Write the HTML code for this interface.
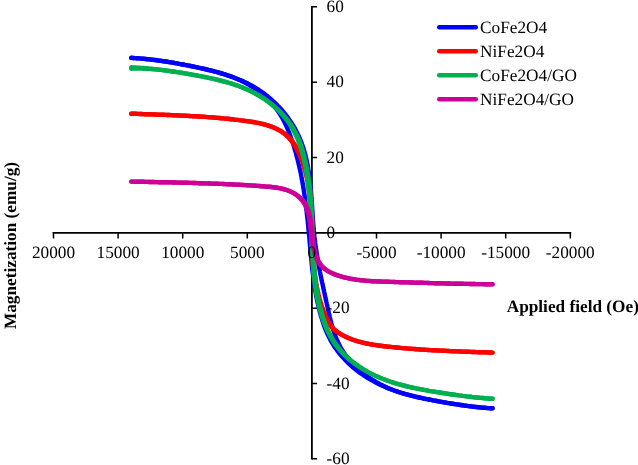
<!DOCTYPE html>
<html><head><meta charset="utf-8"><title>Magnetization</title>
<style>
html,body{margin:0;padding:0;background:#fff;}
body{width:638px;height:465px;overflow:hidden;}
svg{display:block;}
text{text-rendering:geometricPrecision;font-family:"Liberation Serif","Times New Roman",serif;font-size:17.25px;fill:#000;}
.b{font-weight:bold;}
</style></head><body>
<svg width="638" height="465" viewBox="0 0 638 465">
<rect width="638" height="465" fill="#fff"/>
<g fill="none" stroke="#000">
<path d="M311.90 6.10 V459.50 M52.60 232.80 H571.20" stroke-width="1.8"/>
<path d="M311.90 458.80 h5.2 M311.90 383.47 h5.2 M311.90 308.13 h5.2 M311.90 232.80 h5.2 M311.90 157.47 h5.2 M311.90 82.13 h5.2 M311.90 6.80 h5.2 M53.50 232.80 v5.6 M118.10 232.80 v5.6 M182.70 232.80 v5.6 M247.30 232.80 v5.6 M311.90 232.80 v5.6 M376.50 232.80 v5.6 M441.10 232.80 v5.6 M505.70 232.80 v5.6 M570.30 232.80 v5.6 " stroke-width="1.5"/>
</g>
<g fill="none" stroke-width="4.4" stroke-linecap="round" stroke-linejoin="round">
<path d="M131.2 57.9L133.2 58.0 135.2 58.1 137.2 58.3 139.2 58.4 141.2 58.6 143.2 58.7 145.2 58.9 147.2 59.1 149.2 59.3 151.2 59.6 153.2 59.8 155.2 60.0 157.2 60.3 159.2 60.6 161.2 60.8 163.1 61.1 165.1 61.4 167.1 61.7 169.1 62.1 171.1 62.4 173.0 62.7 175.0 63.1 177.0 63.4 179.0 63.8 180.9 64.2 182.9 64.5 184.9 64.9 186.8 65.3 188.8 65.7 190.8 66.1 192.7 66.5 194.7 66.9 196.6 67.3 198.6 67.8 200.6 68.2 202.5 68.6 204.5 69.0 206.4 69.5 208.4 70.0 210.3 70.4 212.3 70.9 214.2 71.4 216.2 71.9 218.1 72.4 220.0 73.0 222.0 73.5 223.9 74.1 225.8 74.7 227.7 75.3 229.6 75.9 231.5 76.6 233.4 77.3 235.3 78.0 237.1 78.7 239.0 79.5 240.8 80.2 242.7 81.0 244.5 81.9 246.3 82.8 248.1 83.6 249.9 84.6 251.6 85.5 253.4 86.5 255.1 87.6 256.8 88.6 258.5 89.7 260.1 90.8 261.8 92.0 263.4 93.1 265.0 94.3 266.6 95.6 268.2 96.8 269.7 98.1 271.2 99.4 272.7 100.8 274.2 102.1 275.6 103.5 277.0 104.9 278.4 106.4 279.8 107.8 281.2 109.3 282.5 110.8 283.8 112.4 285.0 113.9 286.3 115.5 287.5 117.1 288.6 118.7 289.8 120.4 290.9 122.0 292.0 123.7 293.1 125.4 294.1 127.1 295.1 128.9 296.0 130.6 296.9 132.4 297.8 134.2 298.7 136.0 299.5 137.9 300.3 139.7 301.0 141.6 301.7 143.4 302.4 145.3 303.1 147.2 303.7 149.1 304.3 151.1 304.8 153.0 305.3 154.9 305.8 156.9 306.3 158.8 306.7 160.8 307.1 162.7 307.5 164.7 307.9 166.7 308.2 168.6 308.5 170.6 308.8 172.6 309.1 174.6 309.4 176.6 309.7 178.6 309.9 180.6 310.1 182.6 310.3 184.5 310.5 186.5 310.7 188.5 310.9 190.5 311.1 192.5 311.2 194.5 311.4 196.5 311.5 198.5 311.7 200.5 311.8 202.5 311.9 204.5 312.1 206.5 312.2 208.5 312.3 210.5 312.5 212.5 312.6 214.5 312.7 216.5 312.9 218.5 313.0 220.5 313.1 222.5 313.3 224.5 313.5 226.5 313.6 228.5 313.8 230.5 314.0 232.5 314.2 234.5 314.4 236.5 314.7 238.5 314.9 240.5 315.1 242.5 315.4 244.5 315.7 246.4 316.0 248.4 316.3 250.4 316.6 252.4 316.9 254.4 317.2 256.4 317.5 258.3 317.9 260.3 318.2 262.3 318.6 264.3 318.9 266.2 319.3 268.2 319.7 270.2 320.0 272.1 320.4 274.1 320.8 276.1 321.2 278.0 321.6 280.0 322.0 282.0 322.5 283.9 322.9 285.9 323.3 287.8 323.7 289.8 324.1 291.8 324.6 293.7 325.0 295.7 325.4 297.6 325.9 299.6 326.3 301.6 326.7 303.5 327.2 305.5 327.6 307.4 328.0 309.4 328.5 311.3 328.9 313.3 329.4 315.2 329.8 317.2 330.3 319.1 330.8 321.1 331.3 323.0 331.8 325.0 332.4 326.9 332.9 328.8 333.5 330.7 334.2 332.6 334.8 334.5 335.5 336.4 336.3 338.3 337.0 340.1 337.9 341.9 338.7 343.8 339.6 345.5 340.6 347.3 341.6 349.0 342.6 350.7 343.7 352.4 344.9 354.1 346.1 355.7 347.3 357.3 348.5 358.8 349.8 360.4 351.2 361.9 352.5 363.4 353.9 364.8 355.3 366.2 356.8 367.6 358.2 369.0 359.7 370.3 361.3 371.6 362.8 372.9 364.4 374.1 366.0 375.3 367.6 376.5 369.2 377.7 370.9 378.8 372.6 379.9 374.3 380.9 376.0 381.9 377.8 382.9 379.5 383.9 381.3 384.8 383.1 385.7 384.9 386.6 386.7 387.4 388.5 388.2 390.4 389.0 392.3 389.7 394.1 390.5 396.0 391.1 397.9 391.8 399.8 392.4 401.7 393.0 403.7 393.6 405.6 394.2 407.5 394.7 409.4 395.2 411.4 395.7 413.3 396.2 415.3 396.6 417.2 397.1 419.2 397.5 421.2 397.9 423.1 398.4 425.1 398.8 427.1 399.1 429.0 399.5 431.0 399.9 433.0 400.3 434.9 400.6 436.9 401.0 438.9 401.4 440.9 401.7 442.8 402.1 444.8 402.4 446.8 402.8 448.7 403.1 450.7 403.4 452.7 403.8 454.7 404.1 456.7 404.4 458.6 404.7 460.6 405.0 462.6 405.3 464.6 405.6 466.6 405.9 468.6 406.1 470.6 406.4 472.5 406.6 474.5 406.9 476.5 407.1 478.5 407.3 480.5 407.5 482.5 407.6 484.5 407.8 486.5 408.0 488.5 408.1 490.5 408.2 492.5 408.3" stroke="#0000FF"/>
<path d="M131.3 57.8L133.3 58.0 135.3 58.1 137.3 58.3 139.3 58.4 141.2 58.6 143.2 58.8 145.2 59.0 147.2 59.2 149.2 59.4 151.2 59.6 153.2 59.9 155.2 60.1 157.2 60.4 159.2 60.6 161.1 60.9 163.1 61.2 165.1 61.5 167.1 61.8 169.1 62.1 171.1 62.4 173.0 62.7 175.0 63.1 177.0 63.4 179.0 63.8 180.9 64.1 182.9 64.5 184.9 64.9 186.8 65.2 188.8 65.6 190.8 66.0 192.7 66.4 194.7 66.8 196.6 67.2 198.6 67.6 200.6 68.1 202.5 68.5 204.5 68.9 206.4 69.4 208.4 69.9 210.3 70.3 212.3 70.8 214.2 71.3 216.1 71.9 218.1 72.4 220.0 73.0 221.9 73.5 223.8 74.1 225.7 74.8 227.6 75.4 229.5 76.1 231.4 76.7 233.3 77.5 235.1 78.2 237.0 79.0 238.8 79.8 240.6 80.6 242.5 81.5 244.2 82.4 246.0 83.3 247.8 84.2 249.5 85.2 251.2 86.3 252.9 87.3 254.6 88.4 256.3 89.6 257.9 90.7 259.5 92.0 261.1 93.2 262.6 94.5 264.1 95.8 265.6 97.1 267.1 98.5 268.5 99.9 269.9 101.4 271.2 102.8 272.6 104.3 273.9 105.9 275.1 107.4 276.3 109.0 277.5 110.6 278.7 112.3 279.8 113.9 280.8 115.6 281.9 117.3 282.9 119.1 283.8 120.8 284.7 122.6 285.6 124.4 286.4 126.2 287.3 128.1 288.0 129.9 288.8 131.8 289.5 133.6 290.2 135.5 290.9 137.4 291.6 139.3 292.2 141.2 292.9 143.1 293.5 145.0 294.1 146.9 294.6 148.8 295.2 150.8 295.8 152.7 296.3 154.6 296.8 156.6 297.3 158.5 297.8 160.4 298.3 162.4 298.7 164.3 299.2 166.3 299.6 168.2 300.1 170.2 300.5 172.2 300.9 174.1 301.3 176.1 301.6 178.0 302.0 180.0 302.4 182.0 302.7 184.0 303.1 185.9 303.4 187.9 303.7 189.9 304.0 191.9 304.3 193.9 304.6 195.8 304.9 197.8 305.2 199.8 305.4 201.8 305.7 203.8 305.9 205.8 306.2 207.8 306.4 209.7 306.7 211.7 306.9 213.7 307.1 215.7 307.3 217.7 307.6 219.7 307.8 221.7 308.0 223.7 308.2 225.7 308.4 227.7 308.5 229.7 308.7 231.7 308.9 233.7 309.1 235.6 309.3 237.6 309.5 239.6 309.6 241.6 309.8 243.6 310.0 245.6 310.2 247.6 310.4 249.6 310.5 251.6 310.7 253.6 310.9 255.6 311.1 257.6 311.3 259.6 311.5 261.6 311.7 263.6 311.9 265.6 312.1 267.6 312.3 269.6 312.6 271.5 312.8 273.5 313.1 275.5 313.3 277.5 313.6 279.5 313.9 281.5 314.1 283.5 314.4 285.4 314.8 287.4 315.1 289.4 315.4 291.4 315.8 293.4 316.1 295.3 316.5 297.3 316.9 299.3 317.3 301.2 317.7 303.2 318.2 305.1 318.6 307.1 319.1 309.0 319.6 311.0 320.1 312.9 320.6 314.8 321.2 316.8 321.8 318.7 322.4 320.6 323.0 322.5 323.6 324.4 324.3 326.3 325.0 328.2 325.8 330.0 326.5 331.9 327.3 333.7 328.2 335.5 329.1 337.3 330.0 339.1 330.9 340.9 331.9 342.6 333.0 344.3 334.0 346.0 335.1 347.7 336.3 349.3 337.5 350.9 338.7 352.5 340.0 354.1 341.2 355.6 342.5 357.1 343.9 358.6 345.3 360.1 346.7 361.5 348.1 362.9 349.6 364.3 351.0 365.6 352.5 367.0 354.1 368.3 355.6 369.5 357.2 370.8 358.8 372.0 360.4 373.1 362.1 374.3 363.7 375.4 365.4 376.5 367.1 377.6 368.8 378.7 370.5 379.7 372.3 380.7 374.0 381.6 375.8 382.6 377.6 383.5 379.4 384.4 381.2 385.2 383.0 386.0 384.8 386.8 386.7 387.6 388.5 388.4 390.4 389.1 392.3 389.8 394.2 390.5 396.1 391.1 398.0 391.7 399.9 392.4 401.8 393.0 403.7 393.5 405.6 394.1 407.6 394.6 409.5 395.1 411.4 395.6 413.4 396.1 415.3 396.6 417.3 397.0 419.2 397.5 421.2 397.9 423.2 398.3 425.1 398.8 427.1 399.2 429.0 399.5 431.0 399.9 433.0 400.3 435.0 400.7 436.9 401.1 438.9 401.4 440.9 401.8 442.8 402.1 444.8 402.5 446.8 402.8 448.8 403.2 450.7 403.5 452.7 403.8 454.7 404.1 456.7 404.4 458.7 404.7 460.6 405.0 462.6 405.3 464.6 405.6 466.6 405.8 468.6 406.1 470.6 406.3 472.6 406.6 474.5 406.8 476.5 407.0 478.5 407.2 480.5 407.4 482.5 407.6 484.5 407.8 486.5 407.9 488.5 408.1 490.5 408.2 492.5 408.3" stroke="#0000FF"/>
<path d="M131.3 113.7L133.3 113.7 135.3 113.8 137.3 113.9 139.3 114.0 141.3 114.0 143.3 114.1 145.3 114.2 147.3 114.2 149.3 114.3 151.3 114.4 153.3 114.4 155.3 114.5 157.3 114.6 159.3 114.7 161.3 114.7 163.3 114.8 165.3 114.9 167.3 115.0 169.3 115.0 171.3 115.1 173.3 115.2 175.3 115.3 177.3 115.4 179.4 115.5 181.4 115.6 183.4 115.6 185.4 115.7 187.4 115.9 189.4 116.0 191.4 116.1 193.4 116.2 195.4 116.3 197.4 116.4 199.4 116.5 201.4 116.7 203.4 116.8 205.4 116.9 207.4 117.1 209.4 117.2 211.4 117.4 213.4 117.5 215.4 117.7 217.4 117.9 219.4 118.0 221.3 118.2 223.3 118.4 225.3 118.6 227.3 118.8 229.3 119.0 231.3 119.2 233.3 119.4 235.3 119.7 237.3 119.9 239.3 120.1 241.3 120.4 243.3 120.6 245.2 120.9 247.2 121.1 249.2 121.4 251.2 121.7 253.2 122.0 255.2 122.4 257.1 122.8 259.1 123.1 261.1 123.6 263.0 124.0 264.9 124.5 266.9 125.1 268.8 125.7 270.7 126.3 272.6 127.0 274.4 127.8 276.2 128.6 278.0 129.5 279.8 130.4 281.5 131.4 283.2 132.5 284.8 133.7 286.4 135.0 287.9 136.3 289.3 137.7 290.7 139.2 292.0 140.7 293.2 142.3 294.4 143.9 295.5 145.6 296.6 147.3 297.6 149.0 298.5 150.8 299.4 152.6 300.3 154.4 301.1 156.2 301.9 158.0 302.6 159.9 303.3 161.8 304.0 163.7 304.6 165.6 305.3 167.5 305.8 169.4 306.4 171.3 306.9 173.3 307.4 175.2 307.8 177.2 308.2 179.1 308.6 181.1 309.0 183.1 309.4 185.0 309.7 187.0 310.0 189.0 310.2 191.0 310.5 193.0 310.7 195.0 310.9 197.0 311.1 198.9 311.3 200.9 311.4 202.9 311.5 204.9 311.7 206.9 311.8 208.9 311.9 210.9 311.9 213.0 312.0 215.0 312.1 217.0 312.1 219.0 312.2 221.0 312.3 223.0 312.3 225.0 312.3 227.0 312.4 229.0 312.4 231.0 312.5 233.0 312.5 235.0 312.6 237.0 312.6 239.0 312.7 241.0 312.7 243.0 312.8 245.0 312.9 247.0 313.0 249.0 313.1 251.0 313.2 253.0 313.3 255.0 313.4 257.0 313.5 259.0 313.7 261.0 313.8 263.0 314.0 265.0 314.2 267.0 314.4 269.0 314.6 271.0 314.8 273.0 315.0 275.0 315.3 277.0 315.6 278.9 315.9 280.9 316.2 282.9 316.6 284.9 316.9 286.9 317.3 288.8 317.7 290.8 318.2 292.7 318.6 294.7 319.1 296.6 319.6 298.6 320.2 300.5 320.7 302.4 321.3 304.3 321.9 306.2 322.6 308.1 323.3 310.0 324.0 311.9 324.8 313.7 325.5 315.6 326.4 317.4 327.2 319.2 328.2 321.0 329.2 322.7 330.3 324.4 331.4 326.0 332.7 327.6 334.1 329.0 335.6 330.4 337.2 331.6 338.8 332.7 340.5 333.8 342.3 334.8 344.0 335.8 345.8 336.7 347.6 337.5 349.5 338.3 351.3 339.1 353.2 339.8 355.1 340.4 357.0 341.0 358.9 341.6 360.9 342.1 362.8 342.6 364.7 343.1 366.7 343.5 368.7 343.9 370.6 344.3 372.6 344.6 374.6 344.9 376.6 345.2 378.6 345.5 380.5 345.7 382.5 346.0 384.5 346.2 386.5 346.5 388.5 346.7 390.5 346.9 392.5 347.1 394.5 347.3 396.5 347.5 398.5 347.7 400.5 347.9 402.5 348.1 404.5 348.2 406.5 348.4 408.5 348.6 410.5 348.7 412.5 348.9 414.5 349.0 416.5 349.2 418.5 349.3 420.5 349.5 422.5 349.6 424.5 349.7 426.5 349.9 428.5 350.0 430.5 350.1 432.5 350.2 434.5 350.3 436.5 350.4 438.5 350.5 440.5 350.6 442.5 350.7 444.5 350.8 446.5 350.9 448.5 351.0 450.5 351.1 452.5 351.2 454.5 351.3 456.5 351.4 458.5 351.4 460.5 351.5 462.5 351.6 464.5 351.7 466.5 351.7 468.5 351.8 470.5 351.9 472.5 352.0 474.5 352.0 476.5 352.1 478.5 352.2 480.5 352.2 482.5 352.3 484.5 352.3 486.5 352.4 488.5 352.5 490.5 352.5 492.5 352.6" stroke="#FF0000"/>
<path d="M131.2 113.7L133.2 113.7 135.3 113.8 137.3 113.9 139.3 114.0 141.3 114.0 143.3 114.1 145.3 114.2 147.3 114.2 149.3 114.3 151.3 114.4 153.3 114.4 155.3 114.5 157.3 114.6 159.3 114.7 161.3 114.7 163.3 114.8 165.3 114.9 167.3 115.0 169.3 115.0 171.3 115.1 173.3 115.2 175.3 115.3 177.3 115.4 179.3 115.5 181.3 115.6 183.3 115.7 185.3 115.7 187.3 115.9 189.3 116.0 191.3 116.1 193.3 116.2 195.3 116.3 197.3 116.4 199.3 116.5 201.3 116.7 203.3 116.8 205.3 116.9 207.3 117.1 209.3 117.2 211.3 117.4 213.3 117.5 215.3 117.7 217.3 117.9 219.3 118.0 221.3 118.2 223.3 118.4 225.3 118.6 227.3 118.8 229.3 119.0 231.3 119.2 233.3 119.4 235.3 119.7 237.3 119.9 239.2 120.1 241.2 120.4 243.2 120.6 245.2 120.9 247.2 121.2 249.2 121.5 251.2 121.8 253.1 122.1 255.1 122.4 257.1 122.8 259.1 123.2 261.0 123.6 263.0 124.1 264.9 124.6 266.8 125.2 268.7 125.8 270.6 126.4 272.5 127.2 274.3 127.9 276.2 128.8 277.9 129.7 279.7 130.7 281.4 131.7 283.0 132.9 284.6 134.1 286.2 135.4 287.6 136.8 289.0 138.2 290.3 139.7 291.6 141.3 292.8 142.9 293.9 144.5 295.0 146.2 296.0 148.0 296.9 149.7 297.8 151.5 298.7 153.3 299.5 155.2 300.3 157.0 301.1 158.9 301.8 160.7 302.4 162.6 303.1 164.5 303.7 166.4 304.3 168.3 304.8 170.3 305.4 172.2 305.9 174.1 306.3 176.1 306.8 178.1 307.2 180.0 307.6 182.0 307.9 184.0 308.2 185.9 308.5 187.9 308.8 189.9 309.1 191.9 309.3 193.9 309.6 195.9 309.8 197.9 309.9 199.9 310.1 201.9 310.2 203.9 310.4 205.9 310.5 207.9 310.6 209.9 310.7 211.9 310.8 213.9 310.9 215.9 310.9 217.9 311.0 219.9 311.1 221.9 311.1 223.9 311.2 225.9 311.2 227.9 311.3 229.9 311.3 231.9 311.3 233.9 311.4 235.9 311.4 237.9 311.5 239.9 311.6 241.9 311.6 243.9 311.7 245.9 311.8 247.9 311.9 249.9 311.9 251.9 312.0 253.9 312.2 255.9 312.3 257.9 312.4 259.9 312.5 261.9 312.7 263.9 312.9 265.9 313.1 267.9 313.3 269.9 313.5 271.9 313.7 273.9 313.9 275.9 314.2 277.9 314.5 279.9 314.8 281.8 315.1 283.8 315.5 285.8 315.9 287.8 316.3 289.7 316.7 291.7 317.1 293.6 317.6 295.6 318.1 297.5 318.6 299.5 319.2 301.4 319.8 303.3 320.4 305.2 321.1 307.1 321.7 309.0 322.5 310.8 323.2 312.7 324.0 314.5 324.8 316.4 325.7 318.2 326.6 320.0 327.6 321.7 328.6 323.4 329.8 325.1 331.0 326.6 332.4 328.1 333.8 329.5 335.4 330.8 337.0 332.0 338.7 333.1 340.4 334.1 342.1 335.1 343.9 336.0 345.7 336.9 347.5 337.7 349.4 338.5 351.2 339.2 353.1 339.9 355.0 340.5 356.9 341.1 358.9 341.7 360.8 342.2 362.7 342.7 364.7 343.1 366.7 343.5 368.6 343.9 370.6 344.3 372.6 344.6 374.6 344.9 376.5 345.2 378.5 345.5 380.5 345.8 382.5 346.0 384.5 346.2 386.5 346.5 388.5 346.7 390.5 346.9 392.5 347.1 394.5 347.3 396.5 347.5 398.4 347.7 400.4 347.9 402.4 348.1 404.4 348.2 406.4 348.4 408.4 348.6 410.4 348.7 412.4 348.9 414.4 349.0 416.4 349.2 418.4 349.3 420.4 349.5 422.4 349.6 424.4 349.7 426.4 349.9 428.4 350.0 430.4 350.1 432.4 350.2 434.4 350.3 436.4 350.4 438.4 350.5 440.4 350.6 442.4 350.7 444.4 350.8 446.4 350.9 448.4 351.0 450.4 351.1 452.4 351.2 454.4 351.3 456.4 351.4 458.4 351.4 460.5 351.5 462.5 351.6 464.5 351.7 466.5 351.7 468.5 351.8 470.5 351.9 472.5 352.0 474.5 352.0 476.5 352.1 478.5 352.2 480.5 352.2 482.5 352.3 484.5 352.3 486.5 352.4 488.5 352.5 490.5 352.5 492.5 352.6" stroke="#FF0000"/>
<path d="M131.3 67.3L133.3 67.4 135.3 67.5 137.3 67.6 139.3 67.7 141.3 67.9 143.3 68.0 145.3 68.2 147.3 68.4 149.3 68.6 151.3 68.8 153.3 69.0 155.3 69.2 157.3 69.4 159.3 69.7 161.2 69.9 163.2 70.1 165.2 70.4 167.2 70.7 169.2 71.0 171.2 71.2 173.2 71.5 175.1 71.8 177.1 72.1 179.1 72.4 181.1 72.8 183.1 73.1 185.0 73.4 187.0 73.7 189.0 74.1 191.0 74.4 192.9 74.8 194.9 75.1 196.9 75.5 198.9 75.9 200.8 76.2 202.8 76.6 204.8 77.0 206.7 77.4 208.7 77.8 210.7 78.2 212.6 78.6 214.6 79.1 216.5 79.5 218.5 80.0 220.4 80.5 222.4 81.0 224.3 81.5 226.2 82.0 228.2 82.6 230.1 83.1 232.0 83.7 233.9 84.3 235.8 85.0 237.7 85.6 239.6 86.3 241.4 87.0 243.3 87.8 245.2 88.5 247.0 89.3 248.8 90.2 250.6 91.0 252.4 91.9 254.2 92.8 256.0 93.7 257.8 94.7 259.5 95.7 261.2 96.8 262.9 97.8 264.6 98.9 266.2 100.0 267.9 101.2 269.5 102.4 271.1 103.6 272.6 104.9 274.2 106.1 275.7 107.5 277.2 108.8 278.7 110.2 280.1 111.6 281.5 113.0 282.9 114.5 284.2 116.0 285.5 117.5 286.8 119.0 288.0 120.6 289.2 122.2 290.4 123.8 291.5 125.5 292.6 127.2 293.6 128.9 294.6 130.7 295.5 132.4 296.5 134.2 297.3 136.0 298.1 137.8 298.9 139.7 299.7 141.6 300.4 143.4 301.0 145.3 301.7 147.2 302.3 149.1 302.9 151.1 303.4 153.0 303.9 154.9 304.4 156.9 304.9 158.8 305.4 160.8 305.8 162.7 306.2 164.7 306.6 166.6 307.0 168.6 307.3 170.6 307.7 172.6 308.0 174.5 308.3 176.5 308.6 178.5 308.9 180.5 309.2 182.5 309.4 184.5 309.6 186.4 309.9 188.4 310.1 190.4 310.3 192.4 310.4 194.4 310.6 196.4 310.8 198.4 310.9 200.4 311.1 202.4 311.2 204.4 311.3 206.4 311.5 208.4 311.6 210.4 311.7 212.4 311.8 214.4 311.9 216.4 312.0 218.4 312.0 220.4 312.1 222.4 312.2 224.4 312.3 226.4 312.4 228.4 312.4 230.4 312.5 232.5 312.6 234.5 312.6 236.5 312.7 238.5 312.8 240.5 312.9 242.5 312.9 244.5 313.0 246.5 313.1 248.5 313.2 250.5 313.3 252.5 313.4 254.5 313.5 256.5 313.6 258.5 313.7 260.5 313.9 262.5 314.0 264.5 314.1 266.5 314.3 268.5 314.5 270.5 314.7 272.5 314.8 274.5 315.0 276.5 315.3 278.5 315.5 280.5 315.7 282.4 316.0 284.4 316.3 286.4 316.5 288.4 316.9 290.4 317.2 292.4 317.5 294.3 317.9 296.3 318.3 298.3 318.7 300.2 319.1 302.2 319.5 304.2 320.0 306.1 320.5 308.1 321.0 310.0 321.5 311.9 322.0 313.9 322.6 315.8 323.2 317.7 323.8 319.6 324.5 321.5 325.2 323.4 325.9 325.2 326.7 327.1 327.4 328.9 328.3 330.8 329.1 332.6 330.0 334.4 331.0 336.1 331.9 337.9 333.0 339.6 334.0 341.3 335.1 343.0 336.3 344.6 337.5 346.2 338.7 347.8 340.0 349.4 341.3 350.9 342.7 352.4 344.0 353.8 345.5 355.2 346.9 356.6 348.4 358.0 349.9 359.3 351.4 360.6 353.0 361.9 354.6 363.1 356.2 364.3 357.8 365.4 359.4 366.6 361.1 367.7 362.8 368.8 364.5 369.8 366.2 370.8 368.0 371.8 369.8 372.8 371.5 373.7 373.3 374.6 375.1 375.5 376.9 376.3 378.8 377.1 380.6 377.9 382.5 378.7 384.3 379.4 386.2 380.1 388.1 380.8 390.0 381.5 391.9 382.1 393.8 382.7 395.7 383.3 397.6 383.9 399.6 384.4 401.5 384.9 403.4 385.4 405.4 385.9 407.3 386.4 409.3 386.9 411.2 387.3 413.2 387.7 415.2 388.2 417.1 388.6 419.1 388.9 421.1 389.3 423.0 389.7 425.0 390.1 427.0 390.4 429.0 390.8 430.9 391.1 432.9 391.4 434.9 391.8 436.9 392.1 438.8 392.4 440.8 392.7 442.8 393.0 444.8 393.3 446.8 393.6 448.7 393.9 450.7 394.2 452.7 394.5 454.7 394.8 456.7 395.1 458.7 395.4 460.7 395.6 462.6 395.9 464.6 396.1 466.6 396.4 468.6 396.6 470.6 396.8 472.6 397.1 474.6 397.3 476.6 397.5 478.6 397.7 480.6 397.9 482.6 398.0 484.6 398.2 486.6 398.4 488.6 398.5 490.6 398.6 492.6 398.8" stroke="#00B050"/>
<path d="M131.2 68.7L133.2 68.6 135.2 68.6 137.2 68.6 139.2 68.6 141.2 68.6 143.2 68.7 145.2 68.7 147.2 68.8 149.2 68.9 151.2 69.1 153.2 69.2 155.2 69.4 157.2 69.5 159.2 69.7 161.2 69.9 163.2 70.2 165.2 70.4 167.2 70.7 169.2 70.9 171.2 71.2 173.1 71.5 175.1 71.8 177.1 72.1 179.1 72.4 181.1 72.7 183.0 73.0 185.0 73.4 187.0 73.7 189.0 74.1 190.9 74.4 192.9 74.8 194.9 75.2 196.8 75.5 198.8 75.9 200.8 76.3 202.8 76.7 204.7 77.0 206.7 77.4 208.6 77.9 210.6 78.3 212.6 78.7 214.5 79.1 216.5 79.6 218.4 80.1 220.4 80.6 222.3 81.1 224.2 81.6 226.2 82.1 228.1 82.7 230.0 83.2 231.9 83.8 233.8 84.5 235.7 85.1 237.6 85.8 239.5 86.5 241.4 87.2 243.2 87.9 245.1 88.7 246.9 89.5 248.7 90.3 250.6 91.2 252.3 92.1 254.1 93.0 255.9 94.0 257.6 95.0 259.4 96.0 261.1 97.0 262.7 98.1 264.4 99.2 266.1 100.4 267.7 101.5 269.3 102.8 270.9 104.0 272.4 105.3 273.9 106.6 275.4 107.9 276.9 109.2 278.4 110.6 279.8 112.1 281.1 113.5 282.5 115.0 283.8 116.5 285.1 118.0 286.3 119.6 287.6 121.2 288.7 122.8 289.9 124.5 290.9 126.2 292.0 127.9 293.0 129.6 294.0 131.4 294.9 133.2 295.7 135.0 296.6 136.8 297.4 138.6 298.1 140.5 298.8 142.4 299.5 144.2 300.1 146.1 300.8 148.1 301.3 150.0 301.9 151.9 302.4 153.8 302.9 155.8 303.4 157.7 303.8 159.7 304.3 161.6 304.7 163.6 305.1 165.6 305.5 167.5 305.8 169.5 306.2 171.5 306.5 173.4 306.8 175.4 307.1 177.4 307.4 179.4 307.7 181.4 307.9 183.4 308.2 185.4 308.4 187.3 308.6 189.3 308.8 191.3 309.0 193.3 309.2 195.3 309.4 197.3 309.5 199.3 309.7 201.3 309.8 203.3 310.0 205.3 310.1 207.3 310.2 209.3 310.3 211.3 310.4 213.3 310.5 215.3 310.6 217.3 310.7 219.3 310.8 221.3 310.9 223.3 311.0 225.3 311.1 227.3 311.2 229.3 311.2 231.3 311.3 233.3 311.4 235.3 311.5 237.3 311.6 239.3 311.6 241.3 311.7 243.3 311.8 245.3 311.9 247.4 312.0 249.4 312.1 251.4 312.2 253.4 312.3 255.4 312.4 257.4 312.5 259.4 312.7 261.4 312.8 263.4 312.9 265.4 313.1 267.4 313.3 269.4 313.4 271.4 313.6 273.3 313.8 275.3 314.0 277.3 314.3 279.3 314.5 281.3 314.7 283.3 315.0 285.3 315.3 287.3 315.6 289.3 315.9 291.2 316.2 293.2 316.6 295.2 317.0 297.2 317.4 299.1 317.8 301.1 318.2 303.0 318.6 305.0 319.1 306.9 319.6 308.9 320.1 310.8 320.7 312.7 321.2 314.7 321.8 316.6 322.4 318.5 323.1 320.4 323.8 322.3 324.5 324.2 325.2 326.0 326.0 327.9 326.8 329.7 327.6 331.5 328.5 333.3 329.4 335.1 330.4 336.9 331.4 338.6 332.4 340.3 333.5 342.0 334.6 343.7 335.8 345.3 337.0 346.9 338.3 348.4 339.6 350.0 340.9 351.5 342.3 352.9 343.7 354.4 345.1 355.8 346.6 357.1 348.1 358.5 349.6 359.8 351.1 361.0 352.7 362.3 354.3 363.5 355.9 364.7 357.6 365.8 359.2 366.9 360.9 368.0 362.6 369.1 364.3 370.1 366.1 371.1 367.8 372.1 369.6 373.0 371.4 373.9 373.2 374.8 375.0 375.6 376.8 376.5 378.7 377.3 380.5 378.0 382.4 378.8 384.2 379.5 386.1 380.2 388.0 380.9 389.9 381.5 391.8 382.2 393.7 382.8 395.6 383.4 397.6 383.9 399.5 384.5 401.4 385.0 403.4 385.5 405.3 386.0 407.3 386.5 409.2 386.9 411.2 387.3 413.1 387.8 415.1 388.2 417.0 388.6 419.0 389.0 421.0 389.4 423.0 389.7 424.9 390.1 426.9 390.4 428.9 390.8 430.8 391.1 432.8 391.5 434.8 391.8 436.8 392.1 438.8 392.4 440.7 392.7 442.7 393.1 444.7 393.4 446.7 393.7 448.7 394.0 450.6 394.3 452.6 394.5 454.6 394.8 456.6 395.1 458.6 395.4 460.6 395.6 462.6 395.9 464.5 396.1 466.5 396.4 468.5 396.6 470.5 396.8 472.5 397.1 474.5 397.3 476.5 397.5 478.5 397.7 480.5 397.9 482.5 398.0 484.5 398.2 486.5 398.4 488.5 398.5 490.5 398.6 492.5 398.8" stroke="#00B050"/>
<path d="M131.3 181.6L133.3 181.6 135.3 181.7 137.3 181.7 139.3 181.8 141.3 181.8 143.3 181.8 145.3 181.9 147.4 181.9 149.4 182.0 151.4 182.0 153.4 182.0 155.4 182.1 157.4 182.1 159.4 182.2 161.4 182.2 163.4 182.3 165.4 182.3 167.4 182.3 169.4 182.4 171.4 182.4 173.4 182.5 175.4 182.5 177.4 182.6 179.4 182.6 181.4 182.7 183.4 182.7 185.4 182.8 187.4 182.8 189.4 182.9 191.4 182.9 193.4 183.0 195.4 183.0 197.4 183.1 199.4 183.2 201.4 183.2 203.4 183.3 205.4 183.4 207.4 183.4 209.4 183.5 211.4 183.6 213.4 183.6 215.4 183.7 217.4 183.8 219.4 183.9 221.4 183.9 223.4 184.0 225.4 184.1 227.4 184.2 229.4 184.3 231.4 184.4 233.4 184.5 235.4 184.6 237.4 184.7 239.4 184.8 241.4 184.9 243.4 185.0 245.4 185.1 247.4 185.2 249.4 185.4 251.4 185.5 253.4 185.6 255.4 185.7 257.4 185.9 259.4 186.0 261.4 186.2 263.4 186.3 265.4 186.5 267.4 186.6 269.4 186.8 271.4 187.0 273.4 187.2 275.4 187.5 277.4 187.8 279.3 188.1 281.3 188.5 283.3 189.0 285.2 189.5 287.1 190.1 289.0 190.8 290.8 191.5 292.7 192.4 294.4 193.3 296.1 194.4 297.7 195.6 299.3 196.8 300.8 198.2 302.1 199.6 303.4 201.2 304.6 202.8 305.7 204.5 306.6 206.3 307.4 208.1 308.2 210.0 308.8 211.9 309.3 213.8 309.8 215.7 310.2 217.7 310.6 219.7 310.9 221.6 311.2 223.6 311.5 225.6 311.7 227.6 311.9 229.6 312.1 231.6 312.3 233.6 312.6 235.6 312.8 237.6 313.0 239.5 313.3 241.5 313.6 243.5 313.9 245.5 314.2 247.5 314.6 249.4 315.1 251.4 315.6 253.3 316.2 255.2 316.9 257.1 317.6 259.0 318.5 260.8 319.5 262.5 320.6 264.2 321.8 265.8 323.2 267.2 324.7 268.6 326.3 269.8 327.9 270.9 329.7 271.9 331.4 272.8 333.3 273.6 335.1 274.4 337.0 275.1 338.9 275.7 340.8 276.3 342.7 276.9 344.7 277.4 346.6 277.8 348.6 278.3 350.5 278.7 352.5 279.0 354.5 279.4 356.5 279.7 358.4 279.9 360.4 280.2 362.4 280.4 364.4 280.6 366.4 280.8 368.4 280.9 370.4 281.0 372.4 281.2 374.4 281.3 376.4 281.4 378.4 281.5 380.4 281.5 382.4 281.6 384.4 281.7 386.4 281.7 388.4 281.8 390.4 281.9 392.4 281.9 394.4 282.0 396.4 282.1 398.4 282.1 400.4 282.2 402.4 282.2 404.4 282.3 406.4 282.4 408.4 282.4 410.4 282.5 412.4 282.5 414.4 282.6 416.5 282.7 418.5 282.7 420.5 282.8 422.5 282.8 424.5 282.9 426.5 282.9 428.5 283.0 430.5 283.1 432.5 283.1 434.5 283.2 436.5 283.2 438.5 283.3 440.5 283.3 442.5 283.4 444.5 283.4 446.5 283.5 448.5 283.5 450.5 283.6 452.5 283.6 454.5 283.7 456.5 283.7 458.5 283.7 460.5 283.8 462.5 283.8 464.5 283.9 466.5 283.9 468.5 283.9 470.5 284.0 472.5 284.0 474.5 284.0 476.5 284.1 478.5 284.1 480.5 284.1 482.5 284.1 484.5 284.2 486.5 284.2 488.5 284.2 490.5 284.2 492.5 284.3" stroke="#CC0099"/>
<path d="M131.3 181.6L133.3 181.6 135.3 181.7 137.3 181.7 139.3 181.8 141.3 181.8 143.3 181.8 145.3 181.9 147.3 181.9 149.3 182.0 151.3 182.0 153.3 182.0 155.3 182.1 157.3 182.1 159.3 182.2 161.3 182.2 163.3 182.3 165.4 182.3 167.4 182.3 169.4 182.4 171.4 182.4 173.4 182.5 175.4 182.5 177.4 182.6 179.4 182.6 181.4 182.7 183.4 182.7 185.4 182.8 187.4 182.8 189.4 182.9 191.4 182.9 193.4 183.0 195.4 183.0 197.4 183.1 199.4 183.2 201.4 183.2 203.4 183.3 205.4 183.4 207.4 183.4 209.4 183.5 211.4 183.6 213.4 183.6 215.4 183.7 217.4 183.8 219.4 183.9 221.4 183.9 223.4 184.0 225.4 184.1 227.4 184.2 229.4 184.3 231.4 184.4 233.4 184.5 235.4 184.6 237.4 184.7 239.4 184.8 241.4 184.9 243.4 185.0 245.4 185.1 247.4 185.2 249.4 185.4 251.4 185.5 253.4 185.6 255.4 185.7 257.4 185.9 259.4 186.0 261.4 186.2 263.4 186.3 265.4 186.5 267.4 186.6 269.4 186.8 271.4 187.0 273.3 187.3 275.3 187.5 277.3 187.8 279.3 188.2 281.2 188.6 283.2 189.1 285.1 189.6 287.0 190.2 288.9 190.9 290.7 191.7 292.5 192.6 294.2 193.6 295.9 194.8 297.5 196.0 299.0 197.3 300.4 198.7 301.8 200.2 303.0 201.8 304.1 203.5 305.1 205.2 305.9 207.0 306.7 208.9 307.3 210.8 307.9 212.7 308.4 214.6 308.8 216.6 309.2 218.5 309.5 220.5 309.8 222.5 310.1 224.5 310.3 226.5 310.6 228.5 310.8 230.4 311.0 232.4 311.2 234.4 311.5 236.4 311.7 238.4 312.0 240.4 312.3 242.4 312.6 244.3 312.9 246.3 313.3 248.3 313.8 250.2 314.3 252.2 314.9 254.1 315.5 256.0 316.2 257.8 317.1 259.7 318.0 261.4 319.1 263.1 320.3 264.8 321.6 266.3 323.0 267.7 324.5 269.0 326.2 270.1 327.9 271.2 329.6 272.1 331.4 273.0 333.2 273.8 335.1 274.6 337.0 275.2 338.9 275.9 340.8 276.4 342.7 277.0 344.7 277.5 346.6 277.9 348.6 278.3 350.6 278.7 352.5 279.1 354.5 279.4 356.5 279.7 358.5 279.9 360.5 280.2 362.4 280.4 364.4 280.6 366.4 280.8 368.4 280.9 370.4 281.1 372.4 281.2 374.4 281.3 376.4 281.4 378.4 281.5 380.4 281.5 382.4 281.6 384.4 281.7 386.4 281.7 388.4 281.8 390.4 281.9 392.4 281.9 394.4 282.0 396.4 282.1 398.4 282.1 400.4 282.2 402.4 282.2 404.4 282.3 406.4 282.4 408.5 282.4 410.5 282.5 412.5 282.5 414.5 282.6 416.5 282.7 418.5 282.7 420.5 282.8 422.5 282.8 424.5 282.9 426.5 282.9 428.5 283.0 430.5 283.1 432.5 283.1 434.5 283.2 436.5 283.2 438.5 283.3 440.5 283.3 442.5 283.4 444.5 283.4 446.5 283.5 448.5 283.5 450.5 283.6 452.5 283.6 454.5 283.7 456.5 283.7 458.5 283.7 460.5 283.8 462.5 283.8 464.5 283.9 466.5 283.9 468.5 283.9 470.5 284.0 472.5 284.0 474.5 284.0 476.5 284.1 478.5 284.1 480.5 284.1 482.5 284.1 484.5 284.2 486.5 284.2 488.5 284.2 490.5 284.2 492.5 284.3" stroke="#CC0099"/>
</g>
<g fill="none" stroke-width="4.4" stroke-linecap="round">
<path d="M439.2 27.20 H475.8" stroke="#0000FF"/>
<path d="M439.2 51.20 H475.8" stroke="#FF0000"/>
<path d="M439.2 75.20 H475.8" stroke="#00B050"/>
<path d="M439.2 99.20 H475.8" stroke="#CC0099"/>
</g>
<g>
<text x="326.6" y="464.05">-60</text>
<text x="326.6" y="388.72">-40</text>
<text x="326.6" y="313.38">-20</text>
<text x="326.6" y="238.05">0</text>
<text x="326.6" y="162.72">20</text>
<text x="326.6" y="87.38">40</text>
<text x="326.6" y="12.05">60</text>
<text x="53.50" y="258.25" text-anchor="middle">20000</text>
<text x="118.10" y="258.25" text-anchor="middle">15000</text>
<text x="182.70" y="258.25" text-anchor="middle">10000</text>
<text x="247.30" y="258.25" text-anchor="middle">5000</text>
<text x="311.90" y="258.25" text-anchor="middle">0</text>
<text x="376.50" y="258.25" text-anchor="middle">-5000</text>
<text x="441.10" y="258.25" text-anchor="middle">-10000</text>
<text x="505.70" y="258.25" text-anchor="middle">-15000</text>
<text x="570.30" y="258.25" text-anchor="middle">-20000</text>
<text x="480.1" y="32.50">CoFe2O4</text>
<text x="480.1" y="56.50">NiFe2O4</text>
<text x="480.1" y="80.50">CoFe2O4/GO</text>
<text x="480.1" y="104.50">NiFe2O4/GO</text>
<text class="b" x="506.7" y="311.9">Applied field (Oe)</text>
<text class="b" transform="translate(16.1 245.5) rotate(-90)" text-anchor="middle">Magnetization (emu/g)</text>
</g>
</svg>
</body></html>
